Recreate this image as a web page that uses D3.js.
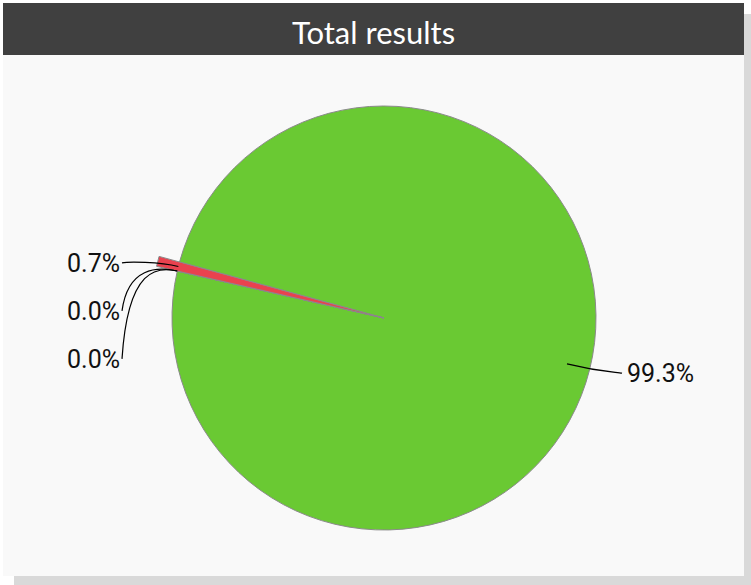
<!DOCTYPE html>
<html>
<head>
<meta charset="utf-8">
<script src="https://cdn.jsdelivr.net/npm/d3@7"></script>
<style>
  html, body { margin: 0; padding: 0; background: #ffffff; }
  svg { display: block; }
</style>
</head>
<body>
<svg id="chart" width="751" height="585"></svg>
<script>
// ---- data ----
const title = "Total results";
const categories = ["Passed", "Failed", "Skipped", "Unknown"];
const values = [99.3, 0.7, 0.0, 0.0];
const highlighted = [false, true, false, false];
const palette = ["#6ac933", "#e9424f", "#f0b44a", "#9a9a9a"];

// ---- layout ----
const W = 751, H = 585;
const box = { x: 3, y: 3, w: 741, h: 573 };
const titleH = 52;
const shadowOff = 11;
const cx = 384, cy = 318, r = 212;
const startDeg = 282.8;
const labelSpacing = 48;
const labelEdgeDist = 117;

const svg = d3.select("#chart");

svg.append("rect")
  .attr("x", box.x + shadowOff).attr("y", box.y + shadowOff)
  .attr("width", box.w).attr("height", box.h)
  .attr("fill", "#d9d9d9");
svg.append("rect")
  .attr("x", box.x).attr("y", box.y)
  .attr("width", box.w).attr("height", box.h)
  .attr("fill", "#f9f9f9");
svg.append("rect")
  .attr("x", box.x).attr("y", box.y)
  .attr("width", box.w).attr("height", titleH)
  .attr("fill", "#404040");
svg.append("text")
  .attr("x", box.x + box.w / 2).attr("y", box.y + 41)
  .attr("text-anchor", "middle")
  .attr("fill", "#ffffff")
  .style("font-family", "Lato, 'Noto Sans', sans-serif")
  .style("font-size", "31px")
  .text(title);

const data = categories.map((c, i) => ({ name: c, value: values[i], hl: highlighted[i], color: palette[i], idx: i }));
const total = d3.sum(values);

const start = startDeg * Math.PI / 180;
const pie = d3.pie().sort(null).value(d => d.value)
  .startAngle(start).endAngle(start - 2 * Math.PI);
const arcs = pie(data);

const arcGen = d3.arc().innerRadius(0).outerRadius(d => d.data.hl ? r * 1.1 : r);

const g = svg.append("g").attr("transform", `translate(${cx},${cy})`);
const drawOrder = arcs.slice().sort((a, b) => (a.data.hl ? 1 : 0) - (b.data.hl ? 1 : 0));
g.selectAll("path.slice").data(drawOrder).enter().append("path")
  .attr("class", "slice")
  .attr("d", arcGen)
  .attr("fill", d => d.data.color)
  .attr("stroke", "#8a8a8a")
  .attr("stroke-width", 1)
  .attr("stroke-linejoin", "round");

// ---- labels ----
const polar = (theta, rho) => [cx + rho * Math.sin(theta), cy - rho * Math.cos(theta)];
const labelR = r * 1.07;
const items = arcs.map(a => {
  const theta = (a.startAngle + a.endAngle) / 2;
  const share = a.data.value / total;
  const anchorR = share >= 0.05 ? r * 0.89 : r;
  const side = Math.sin(theta) < 0 ? "left" : "right";
  return { a, theta, share, anchorR, side, y: polar(theta, labelR)[1] };
});

["left", "right"].forEach(side => {
  const list = items.filter(d => d.side === side).sort((p, q) => p.y - q.y);
  for (let i = 1; i < list.length; i++) {
    list[i].y = Math.max(list[i].y, list[i - 1].y + labelSpacing);
  }
});

const leftTextX = box.x + labelEdgeDist;
const rightTextX = box.x + box.w - labelEdgeDist;

items.forEach(d => {
  const P = polar(d.theta, d.anchorR);
  const C1 = polar(d.theta, r + (d.anchorR < r ? 10 : 20));
  const left = d.side === "left";
  const Lx = left ? leftTextX + 2 : rightTextX - 5;
  const L = [Lx, d.y];
  const C2 = [Lx + (left ? 6 : -6), C1[1]];
  const path = d3.path();
  path.moveTo(P[0], P[1]);
  path.bezierCurveTo(C1[0], C1[1], C2[0], C2[1], L[0], L[1]);
  svg.append("path")
    .attr("d", path.toString())
    .attr("fill", "none")
    .attr("stroke", "#000000")
    .attr("stroke-width", 1.2);
  svg.append("text")
    .attr("x", left ? leftTextX : rightTextX)
    .attr("y", d.y)
    .attr("dy", "0.36em")
    .attr("text-anchor", left ? "end" : "start")
    .attr("fill", "#111111")
    .style("font-family", "Roboto, Lato, sans-serif")
    .style("font-weight", 400)
    .style("font-size", "25px")
    .text((d.share * 100).toFixed(1) + "%");
});
</script>
</body>
</html>
